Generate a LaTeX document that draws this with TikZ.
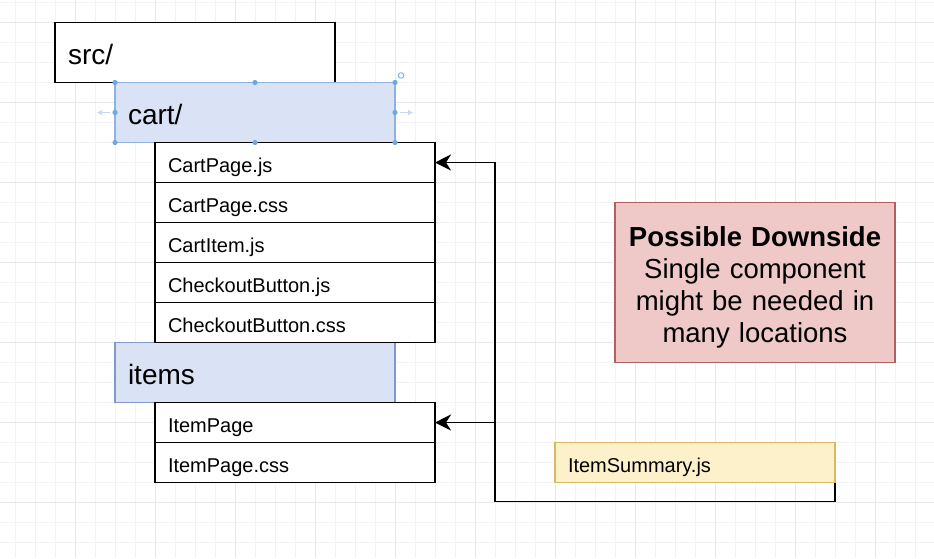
\documentclass[tikz,border=0pt]{standalone}
\usepackage{fontspec}
\setmainfont{Liberation Sans}
\usetikzlibrary{arrows.meta}

\definecolor{gridthin}{HTML}{F3F3F3}
\definecolor{gridthick}{HTML}{E8E8E8}
\definecolor{bluefill}{HTML}{DAE3F5}
\definecolor{blueline}{HTML}{7F99C8}
\definecolor{selblue}{HTML}{8FB3E0}
\definecolor{handleblue}{HTML}{6FA8DC}
\definecolor{yellowfill}{HTML}{FDF1CC}
\definecolor{yellowline}{HTML}{D8B95E}
\definecolor{redfill}{HTML}{EFC8C8}
\definecolor{redline}{HTML}{B06060}

\tikzset{
  box/.style={rectangle, draw=black, line width=1.5pt, anchor=north west,
    minimum width=280pt, inner xsep=13pt, inner ysep=0pt, text width=254pt,
    align=left, outer sep=0pt},
  folder/.style={box, minimum height=60pt, font=\fontsize{28}{32}\selectfont,
    text height=23.5pt, text depth=0pt},
  file/.style={box, fill=white, minimum height=40pt, font=\fontsize{20}{24}\selectfont,
    text height=20.4pt, text depth=0pt},
  note/.style={rectangle, draw=redline, fill=redfill, line width=1.4pt,
    minimum width=280pt, minimum height=160pt},
  notetext/.style={text width=270pt, align=center, font=\fontsize{27.5}{32}\selectfont},
  link/.style={line width=1.8pt, -{Stealth[length=16pt,width=16pt,inset=5pt]}},
  handle/.style={fill=handleblue, draw=none},
  hint/.style={draw=selblue!50, line width=1.5pt, -{Latex[length=5pt,width=6pt]}},
}

\begin{document}
\begin{tikzpicture}[x=1pt, y=-1pt]
  % --- sfondo e griglia ---
  \fill[white] (0,0) rectangle (934,558);
  \useasboundingbox (0,0) rectangle (934,558);
  \foreach \gx in {15,35,...,935} \draw[gridthin, line width=0.8pt] (\gx,0) -- (\gx,558);
  \foreach \gy in {2.5,22.5,...,558} \draw[gridthin, line width=0.8pt] (0,\gy) -- (934,\gy);
  \foreach \gx in {75,155,...,875} \draw[gridthick, line width=0.8pt] (\gx,0) -- (\gx,558);
  \foreach \gy in {22.5,102.5,...,502.5} \draw[gridthick, line width=0.8pt] (0,\gy) -- (934,\gy);

  % --- cartelle ---
  \node[folder, fill=white] (src) at (55,22.5) {src/};
  \node[folder, fill=bluefill, draw=selblue, line width=1.2pt] (cart) at (115,82.5) {cart/};
  \node[folder, fill=bluefill, draw=blueline] (items) at (115,342.5) {items};

  % --- file di cart/ ---
  \node[file] (cartpage) at (155,142.5) {CartPage.js};
  \node[file] (cartcss) at (155,182.5) {CartPage.css};
  \node[file] (cartitem) at (155,222.5) {CartItem.js};
  \node[file] (checkoutjs) at (155,262.5) {CheckoutButton.js};
  \node[file] (checkoutcss) at (155,302.5) {CheckoutButton.css};

  % --- file di items ---
  \node[file] (itempage) at (155,402.5) {ItemPage};
  \node[file] (itemcss) at (155,442.5) {ItemPage.css};

  % componente condiviso
  \node[file, fill=yellowfill, draw=yellowline] (summary) at (555,442.5) {ItemSummary.js};

  % --- nota ---
  \node[note] (downside) at (755,282.5) {};
  \node[notetext] (downsidetext) at ([yshift=-5pt]downside.center)
    {\textbf{Possible Downside}\\Single component\\might be needed in\\many locations};

  % --- collegamenti ---
  \coordinate (trunk) at (495,501.5);
  \draw[line width=1.8pt] (summary.south east) |- (trunk);
  \draw[link] (trunk) |- (cartpage.east);
  \draw[link] (trunk) |- (itempage.east);

  % maniglie di selezione su cart/
  \foreach \hx/\hy in {115/82.5, 255/82.5, 395/82.5, 115/112.5, 395/112.5, 115/142.5, 255/142.5, 395/142.5}
    \fill[handle] (\hx,\hy) circle (2.6pt);
  \draw[hint] (110,112.5) -- (97,112.5);
  \draw[hint] (400,112.5) -- (413,112.5);
  \draw[handleblue, line width=0.8pt] (401,75.5) circle (2.8pt);
\end{tikzpicture}
\end{document}
